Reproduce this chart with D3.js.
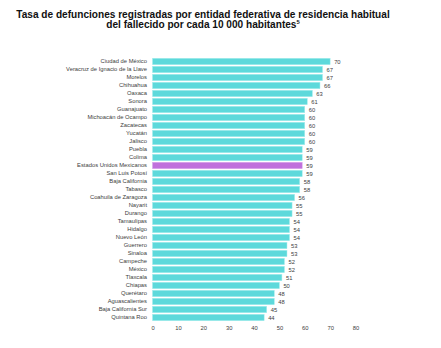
<!DOCTYPE html>
<html>
<head>
<meta charset="utf-8">
<script src="https://cdn.jsdelivr.net/npm/d3@7"></script>
<style>
  html, body { margin: 0; padding: 0; background: #fff; }
  svg { display: block; }
</style>
</head>
<body>
<svg id="chart" width="441" height="348"></svg>
<script>
// Entidades federativas, de mayor a menor tasa
const entidades = [
  "Ciudad de México", "Veracruz de Ignacio de la Llave", "Morelos", "Chihuahua",
  "Oaxaca", "Sonora", "Guanajuato", "Michoacán de Ocampo", "Zacatecas", "Yucatán",
  "Jalisco", "Puebla", "Colima", "Estados Unidos Mexicanos", "San Luis Potosí",
  "Baja California", "Tabasco", "Coahuila de Zaragoza", "Nayarit", "Durango",
  "Tamaulipas", "Hidalgo", "Nuevo León", "Guerrero", "Sinaloa", "Campeche",
  "México", "Tlaxcala", "Chiapas", "Querétaro", "Aguascalientes",
  "Baja California Sur", "Quintana Roo"
];

// Defunciones por cada 10 000 habitantes
const tasas = [
  70, 67, 67, 66, 63, 61, 60, 60, 60, 60, 60, 59, 59, 59, 59, 58, 58, 56,
  55, 55, 54, 54, 54, 53, 53, 52, 52, 51, 50, 48, 48, 45, 44
];

const nacional = "Estados Unidos Mexicanos";
const xTicks = [0, 10, 20, 30, 40, 50, 60, 70, 80];

const svg = d3.select("#chart");
const font = "'Liberation Sans', Arial, sans-serif";

// Título
const title = svg.append("text")
  .attr("x", 203)
  .attr("font-family", font)
  .attr("font-weight", "bold")
  .attr("font-size", 10.1)
  .attr("fill", "#111")
  .attr("text-anchor", "middle");
title.append("tspan").attr("x", 203).attr("y", 17.8)
  .text("Tasa de defunciones registradas por entidad federativa de residencia habitual");
const l2 = title.append("tspan").attr("x", 203).attr("y", 27.8)
  .text("del fallecido por cada 10 000 habitantes");
l2.append("tspan").attr("font-size", 5.8).attr("dy", -3.7).text("5");

const data = entidades.map((e, i) => ({ entidad: e, tasa: tasas[i] }));

const x = d3.scaleLinear().domain([0, 80]).range([152.5, 355.5]);
const y = d3.scaleBand().domain(entidades).range([57.5, 321.5]).paddingInner(0.2).paddingOuter(0.1);

// Barras
svg.append("g").selectAll("rect")
  .data(data)
  .join("rect")
  .attr("x", x(0))
  .attr("y", d => y(d.entidad))
  .attr("width", d => x(d.tasa) - x(0))
  .attr("height", y.bandwidth())
  .attr("fill", d => d.entidad === nacional ? "#c070dc" : "#5dd9db")
  .attr("stroke", d => d.entidad === nacional ? "#d9a6ec" : "#a6eeee")
  .attr("stroke-width", 0.5);

// Valores al final de cada barra
svg.append("g").selectAll("text")
  .data(data)
  .join("text")
  .attr("x", d => x(d.tasa) + 4)
  .attr("y", d => y(d.entidad) + y.bandwidth() / 2)
  .attr("dy", "0.35em")
  .attr("font-family", font)
  .attr("font-size", 5.8)
  .attr("fill", "#404040")
  .text(d => d.tasa);

// Eje de categorías
const yAxis = svg.append("g")
  .attr("transform", `translate(${x(0) - 5.5},0)`)
  .call(d3.axisLeft(y).tickSize(0).tickPadding(0));
yAxis.select(".domain").remove();
yAxis.selectAll("text")
  .attr("font-family", font)
  .attr("font-size", 5.8)
  .attr("fill", "#404040");

// Eje de valores
const xAxis = svg.append("g")
  .attr("transform", "translate(0,326)")
  .call(d3.axisBottom(x).tickValues(xTicks).tickSize(0).tickPadding(0));
xAxis.select(".domain").remove();
xAxis.selectAll("text")
  .attr("dy", "0.71em")
  .attr("font-family", font)
  .attr("font-size", 5.8)
  .attr("fill", "#404040");
</script>
</body>
</html>
